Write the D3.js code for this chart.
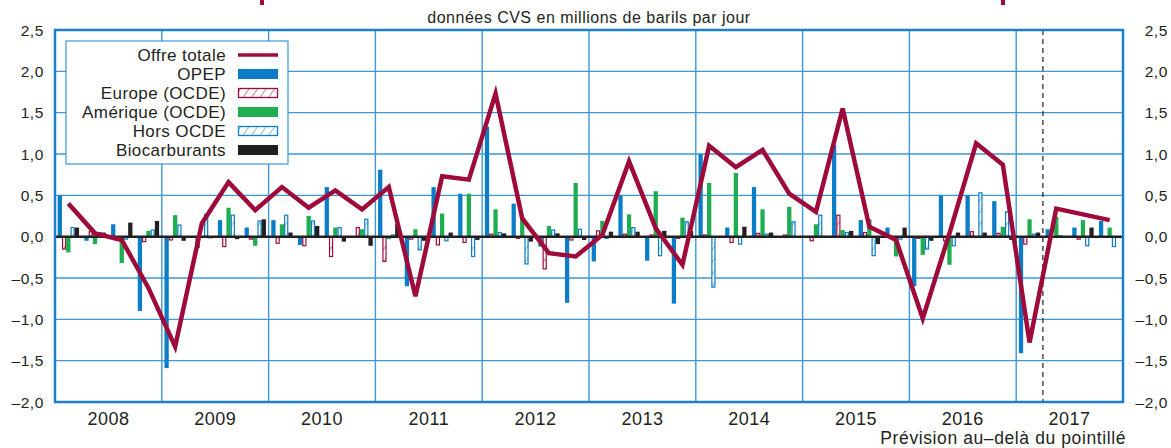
<!DOCTYPE html>
<html>
<head>
<meta charset="utf-8">
<script src="https://cdn.jsdelivr.net/npm/d3@7"></script>
<style>
    body { margin: 0; background: #fff; }
    svg { display: block; font-family: "Liberation Sans", Arial, sans-serif; }
</style>
</head>
<body>
<svg id="chart" width="1171" height="448"></svg>
<script>
// quarterly data, 2008 T1 -> 2017 T4 (millions de barils par jour)
const years = [2008, 2009, 2010, 2011, 2012, 2013, 2014, 2015, 2016, 2017];
const quarters = years.flatMap(y => ["T1", "T2", "T3", "T4"].map(q => y + q));

const offreTotale = [
    0.40, 0.04, -0.04, -0.62,
    -1.33, 0.16, 0.66, 0.32,
    0.60, 0.35, 0.56, 0.33,
    0.60, -0.72, 0.73, 0.69,
    1.73, 0.22, -0.20, -0.24,
    0.02, 0.91, 0.10, -0.34,
    1.10, 0.84, 1.05, 0.52,
    0.30, 1.55, 0.12, -0.04,
    -0.99, 0.04, 1.13, 0.87,
    -1.28, 0.34, 0.27, 0.20
];
const opep = [
    0.50, -0.05, 0.15, -0.90,
    -1.59, 0.00, 0.20, 0.11,
    0.20, -0.10, 0.60, 0.00,
    0.81, -0.60, 0.60, 0.52,
    1.33, 0.40, -0.12, -0.80,
    -0.30, 0.50, -0.29, -0.81,
    1.00, 0.11, 0.60, 0.00,
    0.00, 1.11, 0.20, 0.11,
    -0.60, 0.50, 0.50, 0.43,
    -1.41, 0.09, 0.11, 0.19
];
const europe = [
    -0.15, 0.06, -0.02, -0.06,
    -0.04, -0.13, -0.12, -0.03,
    -0.08, -0.11, -0.24, 0.11,
    -0.30, -0.03, -0.10, -0.07,
    0.03, -0.02, -0.39, -0.04,
    0.07, 0.03, 0.02, -0.02,
    0.02, -0.07, 0.04, 0.02,
    -0.05, 0.26, 0.05, 0.00,
    -0.02, -0.05, 0.06, 0.04,
    -0.09, 0.00, -0.03, 0.00
];
const amerique = [
    -0.19, -0.09, -0.32, 0.07,
    0.26, 0.00, 0.35, -0.11,
    0.15, 0.25, 0.11, 0.09,
    -0.03, 0.09, 0.28, 0.52,
    0.33, 0.21, 0.13, 0.65,
    0.19, 0.27, 0.55, 0.23,
    0.65, 0.77, 0.33, 0.36,
    0.15, 0.08, 0.21, -0.24,
    -0.22, -0.34, 0.01, 0.12,
    0.21, 0.24, 0.20, 0.11
];
const horsOcde = [
    0.11, 0.05, -0.03, 0.08,
    0.14, 0.27, 0.26, 0.19,
    0.26, 0.19, 0.11, 0.21,
    0.02, -0.16, -0.05, -0.24,
    0.05, -0.33, 0.08, 0.09,
    -0.02, 0.11, -0.23, 0.18,
    -0.61, -0.09, 0.03, 0.18,
    0.26, 0.05, -0.23, -0.03,
    -0.15, -0.11, 0.53, 0.30,
    0.03, 0.01, -0.11, -0.12
];
const biocarburants = [
    0.11, 0.05, 0.17, 0.19,
    -0.05, -0.02, -0.03, 0.21,
    0.05, 0.13, -0.06, -0.11,
    0.15, -0.05, 0.05, -0.04,
    0.04, -0.06, 0.04, -0.04,
    0.06, 0.06, 0.07, 0.07,
    0.00, 0.12, 0.05, 0.00,
    0.01, 0.07, -0.09, 0.11,
    -0.05, 0.05, 0.05, -0.04,
    0.05, 0.00, 0.11, 0.00
];
const yTicks = [-2, -1.5, -1, -0.5, 0, 0.5, 1, 1.5, 2, 2.5];
const forecastStart = "2017T2";

const RED = "#9e0b3b";
const BLUE = "#0b7dc6";
const GREEN = "#1fae4f";
const BLACK = "#231f20";
const GRID = "#3d97d9";

const barSeries = [
    { key: "opep", label: "OPEP", values: opep, color: BLUE, hatch: false },
    { key: "europe", label: "Europe (OCDE)", values: europe, color: RED, hatch: true },
    { key: "amerique", label: "Amérique (OCDE)", values: amerique, color: GREEN, hatch: false },
    { key: "hors", label: "Hors OCDE", values: horsOcde, color: BLUE, hatch: true },
    { key: "bio", label: "Biocarburants", values: biocarburants, color: BLACK, hatch: false }
];

const svg = d3.select("#chart");
const plot = { left: 55, right: 1123, top: 30, bottom: 402 };

let fmt = d3.formatLocale({ decimal: ",", thousands: " ", grouping: [3], currency: ["", ""], minus: "–" }).format(".1f");

let x = d3.scaleBand().domain(quarters).range([plot.left, plot.right]).paddingInner(0.2).paddingOuter(0.1);
let xSub = d3.scaleBand().domain(barSeries.map(s => s.key)).range([0, x.bandwidth()]);
let xYear = d3.scaleBand().domain(years).range([plot.left, plot.right]);
let y = d3.scaleLinear().domain([-2, 2.5]).range([plot.bottom, plot.top]);

// hatch patterns
let defs = svg.append("defs");
barSeries.filter(s => s.hatch).forEach(s => {
    let p = defs.append("pattern")
        .attr("id", "hatch-" + s.key)
        .attr("patternUnits", "userSpaceOnUse")
        .attr("width", 7).attr("height", 7)
        .attr("patternTransform", "rotate(35)");
    p.append("rect").attr("width", 7).attr("height", 7).attr("fill", "#fff");
    p.append("line").attr("x1", 0).attr("y1", 0).attr("x2", 0).attr("y2", 7)
        .attr("stroke", s.color).attr("stroke-width", 1);
});

// grid
svg.append("g")
    .selectAll("line")
    .data(yTicks.filter(t => t > -2 && t < 2.5 && t !== 0))
    .enter()
    .append("line")
    .attr("x1", plot.left).attr("x2", plot.right)
    .attr("y1", d => y(d)).attr("y2", d => y(d))
    .style("stroke", GRID).style("stroke-width", 1.4);

svg.append("g")
    .selectAll("line")
    .data(years.slice(1))
    .enter()
    .append("line")
    .attr("x1", d => xYear(d)).attr("x2", d => xYear(d))
    .attr("y1", plot.top).attr("y2", plot.bottom)
    .style("stroke", GRID).style("stroke-width", 1.4);

// bars
let groups = svg.append("g")
    .selectAll("g")
    .data(quarters)
    .enter()
    .append("g")
    .attr("transform", d => "translate(" + x(d) + ",0)");

groups.selectAll("rect")
    .data((q, i) => barSeries.map(s => ({ s: s, v: s.values[i] })))
    .enter()
    .append("rect")
    .each(function (d) {
        let r = d3.select(this);
        let x0 = xSub(d.s.key);
        let y0 = Math.min(y(d.v), y(0));
        let h = Math.abs(y(d.v) - y(0));
        if (d.s.hatch) {
            r.attr("x", x0 + 0.6).attr("y", y0)
                .attr("width", xSub.bandwidth() - 1.2).attr("height", h)
                .style("fill", "url(#hatch-" + d.s.key + ")")
                .style("stroke", d.s.color).style("stroke-width", 1.2);
        } else {
            r.attr("x", x0).attr("y", y0)
                .attr("width", xSub.bandwidth()).attr("height", h)
                .style("fill", d.s.color);
        }
    });

// zero line
svg.append("line")
    .attr("x1", plot.left).attr("x2", plot.right)
    .attr("y1", y(0)).attr("y2", y(0))
    .style("stroke", BLACK).style("stroke-width", 2.5);

// forecast marker
let xf = x(forecastStart) - x.step() * x.paddingInner() / 2;
svg.append("line")
    .attr("x1", xf).attr("x2", xf)
    .attr("y1", plot.top).attr("y2", plot.bottom)
    .style("stroke", BLACK).style("stroke-width", 1.2)
    .style("stroke-dasharray", "5,4");

// offre totale
let line = d3.line()
    .x((d, i) => x(quarters[i]) + x.bandwidth() / 2)
    .y(d => y(d));

svg.append("path")
    .datum(offreTotale)
    .attr("d", line)
    .style("fill", "none")
    .style("stroke", RED)
    .style("stroke-width", 4.5)
    .style("stroke-linejoin", "miter");

// frame
svg.append("rect")
    .attr("x", plot.left).attr("y", plot.top)
    .attr("width", plot.right - plot.left).attr("height", plot.bottom - plot.top)
    .style("fill", "none").style("stroke", "#1b80c9").style("stroke-width", 2.5);

// axis labels
[44, 1168].forEach(xPos => {
    svg.append("g")
        .selectAll("text")
        .data(yTicks)
        .enter()
        .append("text")
        .attr("x", xPos).attr("y", d => y(d) + 5.5)
        .attr("text-anchor", "end")
        .style("font-size", "15.5px").style("letter-spacing", "0.6px").style("fill", BLACK)
        .text(fmt);
});

svg.append("g")
    .selectAll("text")
    .data(years)
    .enter()
    .append("text")
    .attr("x", d => xYear(d) + xYear.bandwidth() / 2)
    .attr("y", 425)
    .attr("text-anchor", "middle")
    .style("font-size", "18px").style("letter-spacing", "0.5px").style("fill", BLACK)
    .text(d => d);

svg.append("text")
    .attr("x", 1126).attr("y", 444)
    .attr("text-anchor", "end")
    .style("font-size", "17.5px").style("letter-spacing", "0.6px").style("fill", BLACK)
    .text("Prévision au–delà du pointillé");

svg.append("text")
    .attr("x", 589).attr("y", 23)
    .attr("text-anchor", "middle")
    .style("font-size", "16px").style("letter-spacing", "0.5px").style("fill", BLACK)
    .text("données CVS en millions de barils par jour");

// remains of the title, cut off above the picture
svg.append("g")
    .selectAll("rect")
    .data([262, 1003])
    .enter()
    .append("rect")
    .attr("x", d => d - 2).attr("y", 0)
    .attr("width", 4).attr("height", 5)
    .style("fill", RED);

// legend
let legend = svg.append("g").attr("transform", "translate(66,41)");
legend.append("rect")
    .attr("width", 222).attr("height", 123)
    .style("fill", "#fff").style("stroke", GRID).style("stroke-width", 1.2);

let legendItems = [{ key: "total", label: "Offre totale", color: RED }].concat(barSeries);
let rows = legend.selectAll("g.row")
    .data(legendItems)
    .enter()
    .append("g")
    .attr("class", "row")
    .attr("transform", (d, i) => "translate(0," + (14 + i * 19) + ")");

rows.append("text")
    .attr("x", 160).attr("y", 6)
    .attr("text-anchor", "end")
    .style("font-size", "17px").style("letter-spacing", "0.4px").style("fill", BLACK)
    .text(d => d.label);

rows.each(function (d) {
    let g = d3.select(this);
    if (d.key === "total") {
        g.append("line").attr("x1", 172).attr("x2", 212).attr("y1", 0).attr("y2", 0)
            .style("stroke", RED).style("stroke-width", 3.5);
    } else if (d.hatch) {
        g.append("rect").attr("x", 172.5).attr("y", -4.5).attr("width", 39).attr("height", 9)
            .style("fill", "url(#hatch-" + d.key + ")")
            .style("stroke", d.color).style("stroke-width", 1.3);
    } else {
        g.append("rect").attr("x", 172).attr("y", -5).attr("width", 40).attr("height", 10)
            .style("fill", d.color);
    }
});
</script>
</body>
</html>
